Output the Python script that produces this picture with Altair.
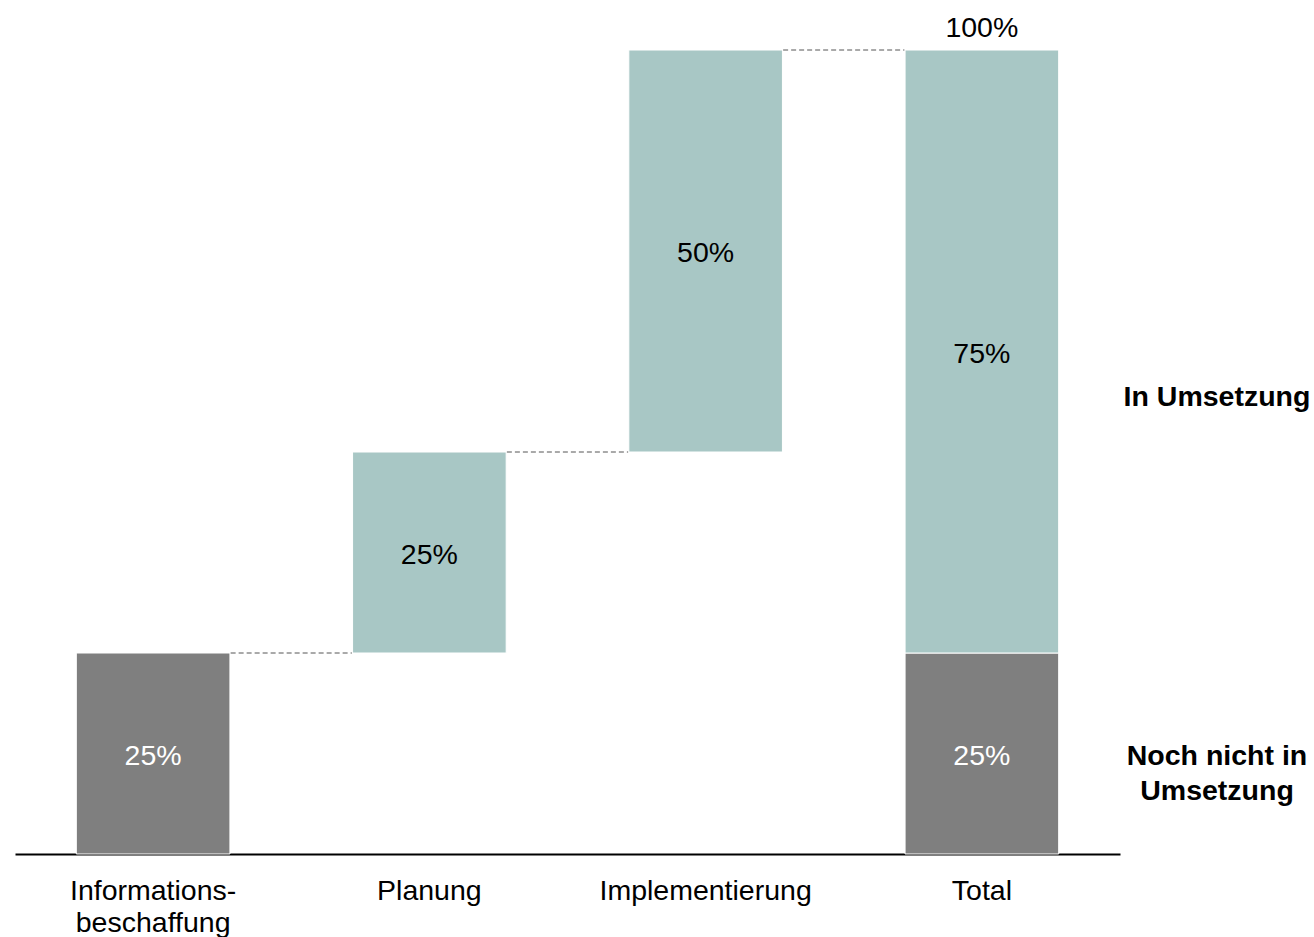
import altair as alt
import pandas as pd

# ---- data ----
categories = ["Informationsbeschaffung", "Planung", "Implementierung", "Total"]

seg_cat = ["Informationsbeschaffung", "Planung", "Implementierung", "Total", "Total"]
seg_start = [0, 25, 50, 0, 25]
seg_end = [25, 50, 100, 25, 100]
seg_group = ["Noch nicht in Umsetzung", "In Umsetzung", "In Umsetzung",
             "Noch nicht in Umsetzung", "In Umsetzung"]
seg_label = ["25%", "25%", "50%", "25%", "75%"]

conn_from = ["Informationsbeschaffung", "Planung", "Implementierung"]
conn_to = ["Planung", "Implementierung", "Total"]
conn_level = [25, 50, 100]

total_cat = ["Total"]
total_value = [100]
total_label = ["100%"]

legend_text = [["In Umsetzung"], ["Noch nicht in", "Umsetzung"]]
legend_pos = [56.8, 12.2]

groups = ["Noch nicht in Umsetzung", "In Umsetzung"]
colors = ["#7F7F7F", "#A8C7C5"]

FONT = "Liberation Sans"
FS = 28.5

seg_df = pd.DataFrame({"cat": seg_cat, "start": seg_start, "end": seg_end,
                       "group": seg_group, "label": seg_label})
conn_df = pd.DataFrame({"from": conn_from, "to": conn_to, "level": conn_level})
tot_df = pd.DataFrame({"cat": total_cat, "value": total_value, "label": total_label})
leg_df = pd.DataFrame({"text": legend_text, "pos": legend_pos})

xscale = alt.Scale(domain=categories, paddingInner=0.444, paddingOuter=0.222)
yscale = alt.Scale(domain=[0, 100], nice=False)

x_axis = alt.Axis(
    title=None, labelAngle=0, ticks=False, domainColor="black", domainWidth=2,
    labelFont=FONT, labelFontSize=FS, labelColor="black", labelPadding=22,
    labelBaseline="top", labelLineHeight=32, labelLimit=0, labelOverlap=False,
    labelExpr="datum.value == 'Informationsbeschaffung' ? ['Informations-', 'beschaffung'] : datum.label",
)

bars = alt.Chart(seg_df).mark_bar(stroke="white", strokeWidth=1).encode(
    x=alt.X("cat:N", sort=categories, scale=xscale, axis=x_axis),
    y=alt.Y("start:Q", scale=yscale, axis=None),
    y2="end:Q",
    color=alt.Color("group:N", scale=alt.Scale(domain=groups, range=colors), legend=None),
)

bar_text = alt.Chart(seg_df).transform_calculate(
    mid="(datum.start + datum.end) / 2"
).mark_text(font=FONT, fontSize=FS, baseline="middle", align="center", dy=2).encode(
    x=alt.X("cat:N", sort=categories),
    y=alt.Y("mid:Q"),
    text="label:N",
    color=alt.condition(alt.datum.group == "In Umsetzung", alt.value("black"), alt.value("white")),
)

connectors = alt.Chart(conn_df).mark_rule(
    strokeDash=[5, 3], color="#555555", strokeWidth=1, xOffset=77.5, x2Offset=-77.5
).encode(
    x=alt.X("from:N", sort=categories),
    x2="to:N",
    y="level:Q",
)

total_text = alt.Chart(tot_df).mark_text(
    font=FONT, fontSize=FS, baseline="alphabetic", align="center", dy=-13, color="black"
).encode(
    x=alt.X("cat:N", sort=categories),
    y="value:Q",
    text="label:N",
)

legend = alt.Chart(leg_df).mark_text(
    font=FONT, fontSize=FS, fontWeight="bold", baseline="middle", align="center",
    lineHeight=35, color="black"
).encode(
    x=alt.value(1202),
    y="pos:Q",
    text="text",
)

chart = alt.layer(bars, connectors, bar_text, total_text, legend).properties(
    width=1105, height=804,
    autosize=alt.AutoSizeParams(type="none"),
    padding={"left": 15, "top": 50, "right": 194, "bottom": 83},
).configure_view(stroke=None)

chart.save("out.html", embed_options={"renderer": "svg", "actions": False})
